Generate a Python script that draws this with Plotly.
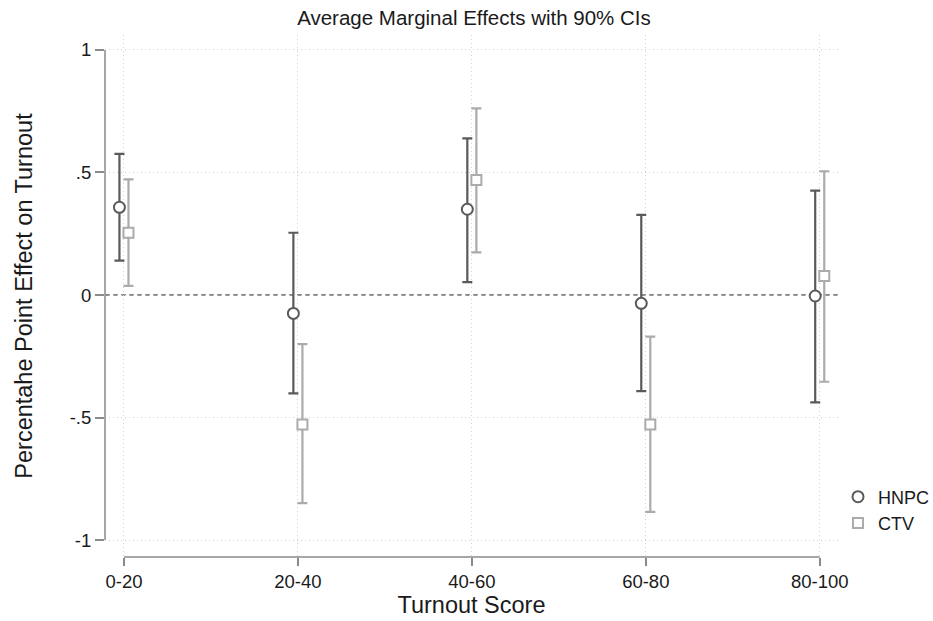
import plotly.graph_objects as go

categories = ["0-20", "20-40", "40-60", "60-80", "80-100"]
hnpc_est = [0.358, -0.075, 0.350, -0.034, -0.004]
hnpc_lo = [0.140, -0.401, 0.053, -0.392, -0.438]
hnpc_hi = [0.576, 0.254, 0.639, 0.327, 0.426]
ctv_est = [0.254, -0.528, 0.469, -0.528, 0.078]
ctv_lo = [0.037, -0.849, 0.174, -0.885, -0.354]
ctv_hi = [0.472, -0.200, 0.762, -0.170, 0.505]
y_ticks = [-1, -0.5, 0, 0.5, 1]
y_ticklabels = ["-1", "-.5", "0", ".5", "1"]

xpos = list(range(len(categories)))
off = 0.026
dark = "#5a5a5a"
light = "#ababab"

fig = go.Figure()
fig.add_trace(go.Scatter(
    x=[p - off for p in xpos], y=hnpc_est, mode="markers", name="HNPC",
    marker=dict(symbol="circle", size=11, color="white", line=dict(color=dark, width=2)),
    error_y=dict(type="data", symmetric=False,
                 array=[h - e for h, e in zip(hnpc_hi, hnpc_est)],
                 arrayminus=[e - l for e, l in zip(hnpc_est, hnpc_lo)],
                 color=dark, thickness=2.2, width=5),
))
fig.add_trace(go.Scatter(
    x=[p + off for p in xpos], y=ctv_est, mode="markers", name="CTV",
    marker=dict(symbol="square", size=10, color="white", line=dict(color=light, width=2)),
    error_y=dict(type="data", symmetric=False,
                 array=[h - e for h, e in zip(ctv_hi, ctv_est)],
                 arrayminus=[e - l for e, l in zip(ctv_est, ctv_lo)],
                 color=light, thickness=2.2, width=5),
))

# zero reference line
fig.add_shape(type="line", xref="paper", x0=0, x1=1, yref="y", y0=0, y1=0,
              line=dict(color="#6a6a6a", width=1.6, dash="5px,3px"), layer="below")
# Stata-style axis lines spanning only the tick range
fig.add_shape(type="line", xref="paper", x0=0, x1=0, yref="y", y0=y_ticks[0], y1=y_ticks[-1],
              line=dict(color="#8a8a8a", width=1.5))
fig.add_shape(type="line", xref="x", x0=xpos[0], x1=xpos[-1], yref="paper", y0=0, y1=0,
              line=dict(color="#8a8a8a", width=1.5))

font_family = "Liberation Sans, Arial, sans-serif"
fig.update_layout(
    width=933, height=621,
    margin=dict(l=105, r=95, t=35, b=64, autoexpand=False),
    plot_bgcolor="white", paper_bgcolor="white",
    font=dict(family=font_family, color="#1a1a1a"),
    title=dict(text="Average Marginal Effects with 90% CIs", x=0.508,
               xanchor="center", y=0.971, yanchor="middle", font=dict(size=20.5, color="#1a1a1a")),
    showlegend=True,
    legend=dict(x=1.0, xanchor="left", y=0.09, yanchor="middle", font=dict(size=18, color="#1a1a1a"),
                itemwidth=30, tracegroupgap=2, bgcolor="rgba(0,0,0,0)"),
)
fig.update_xaxes(
    range=[-0.109, 4.105], tickvals=xpos, ticktext=categories,
    showline=False, zeroline=False, showgrid=True, gridcolor="#d2d2d2", griddash="1px,3px", gridwidth=1,
    ticks="outside", ticklen=8, tickcolor="#8a8a8a", tickwidth=1.5,
    tickfont=dict(size=18.5, color="#1a1a1a"),
    title=dict(text="Turnout Score", font=dict(size=23.5, color="#1a1a1a"), standoff=4),
)
fig.update_yaxes(
    range=[-1.069, 1.061], tickvals=y_ticks, ticktext=y_ticklabels,
    showline=False, zeroline=False, showgrid=True, gridcolor="#d2d2d2", griddash="1px,3px", gridwidth=1,
    ticks="outside", ticklen=9, tickcolor="#8a8a8a", tickwidth=1.5,
    tickfont=dict(size=18.5, color="#1a1a1a"),
    title=dict(text="Percentahe Point Effect on Turnout", font=dict(size=23.5, color="#1a1a1a"), standoff=30),
)

fig.write_html("out.html")
